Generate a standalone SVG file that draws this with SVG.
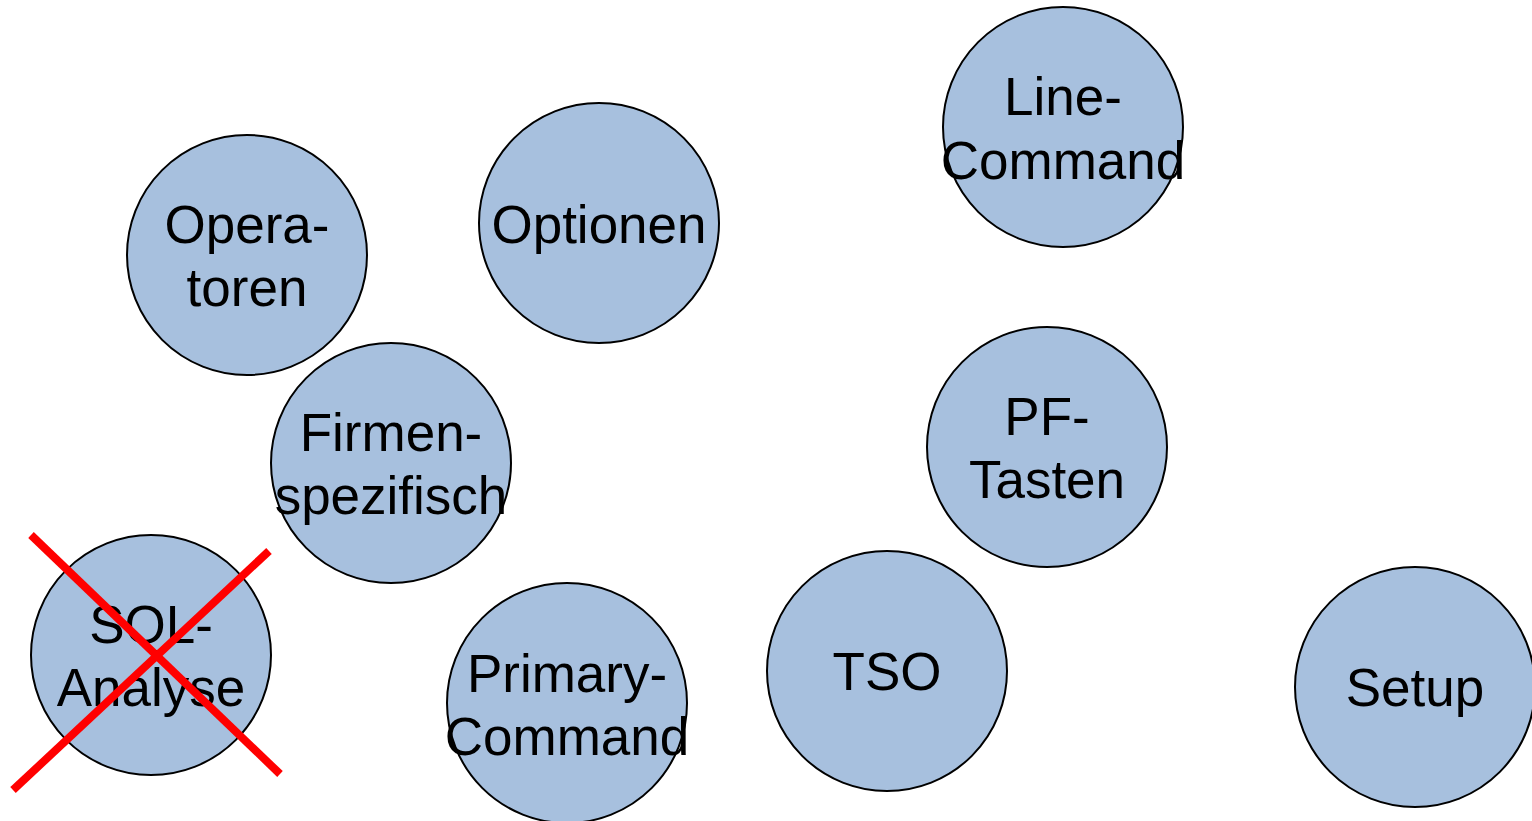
<svg xmlns="http://www.w3.org/2000/svg" width="1532" height="821" viewBox="0 0 1532 821">
<style>
.n{fill:#a7c0de;stroke:#000;stroke-width:2}
.t{font-family:"Liberation Sans",Arial,sans-serif;font-size:53px;fill:#000;text-anchor:middle}
.x{stroke:#ff0000;stroke-width:8;fill:none}
</style>
<rect width="1532" height="821" fill="#fff"/>
<g id="operatoren"><circle class="n" cx="247" cy="255" r="120"/><text class="t" x="247" y="243">Opera-</text><text class="t" x="247" y="306">toren</text></g>
<g id="optionen"><circle class="n" cx="599" cy="223" r="120"/><text class="t" x="599" y="243">Optionen</text></g>
<g id="linecommand"><circle class="n" cx="1063" cy="127" r="120"/><text class="t" x="1063" y="115">Line-</text><text class="t" x="1063" y="179">Command</text></g>
<g id="firmenspezifisch"><circle class="n" cx="391" cy="463" r="120"/><text class="t" x="391" y="451">Firmen-</text><text class="t" x="391" y="514">spezifisch</text></g>
<g id="pftasten"><circle class="n" cx="1047" cy="447" r="120"/><text class="t" x="1047" y="435">PF-</text><text class="t" x="1047" y="498">Tasten</text></g>
<g id="sqlanalyse"><circle class="n" cx="151" cy="655" r="120"/><text class="t" x="151" y="643">SQL-</text><text class="t" x="151" y="706">Analyse</text></g>
<g id="primarycommand"><circle class="n" cx="567" cy="703" r="120"/><text class="t" x="567" y="692">Primary-</text><text class="t" x="567" y="755">Command</text></g>
<g id="tso"><circle class="n" cx="887" cy="671" r="120"/><text class="t" x="887" y="690">TSO</text></g>
<g id="setup"><circle class="n" cx="1415" cy="687" r="120"/><text class="t" x="1415" y="706">Setup</text></g>
<g id="connectors"></g>
<g id="cross"><line class="x" x1="31" y1="535" x2="280" y2="774"/><line class="x" x1="269" y1="551" x2="13" y2="790"/></g>
</svg>
